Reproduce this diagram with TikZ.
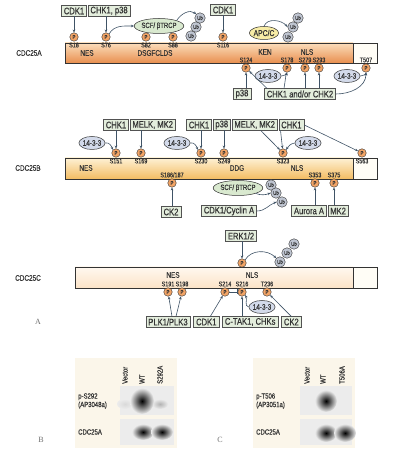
\documentclass[tikz,border=0pt]{standalone}
\usepackage{fontspec}
\setmainfont{Liberation Sans}[FakeStretch=0.8, FakeBold=0.4]
\newfontfamily\panelfont{Liberation Serif}
\usetikzlibrary{positioning,arrows.meta,shapes.geometric}

\definecolor{ink}{HTML}{333333}
\definecolor{arrowc}{HTML}{3F5366}
\definecolor{pfill}{HTML}{F2A466}
\definecolor{ubfill}{HTML}{BFC5D1}
\definecolor{adfill}{HTML}{D3DAEA}
\definecolor{scffill}{HTML}{D9E9CF}
\definecolor{apcfill}{HTML}{F7ECA6}
\definecolor{kinfill}{HTML}{E4EEDD}
\definecolor{barAtop}{HTML}{FBDDBB}
\definecolor{barAbot}{HTML}{E88F4F}
\definecolor{barBtop}{HTML}{FEF1D4}
\definecolor{barBbot}{HTML}{F3BC62}
\definecolor{barCtop}{HTML}{FFF8F0}
\definecolor{barCbot}{HTML}{FBE3C7}
\definecolor{tailfill}{HTML}{FFFDF6}
\definecolor{panelbg}{HTML}{FBF6EA}
\definecolor{blotbg}{HTML}{ECECEC}

\begin{document}
\begin{tikzpicture}[x=1pt, y=1pt, text=ink, >={Stealth[length=3pt,width=2.6pt]},
    kin/.style={draw=ink!85, fill=kinfill, line width=0.5pt, inner xsep=2.5pt, inner ysep=0.3pt,
      minimum height=10.5pt, font=\fontsize{9.5}{9.5}\selectfont},
    phos/.style={circle, draw=ink, fill=pfill, line width=0.4pt, minimum size=8.5pt, inner sep=0pt,
      font=\fontsize{5.5}{5.5}\selectfont},
    ub/.style={circle, draw=ink, fill=ubfill, line width=0.4pt, minimum size=10.5pt, inner sep=0pt,
      font=\fontsize{5.5}{5.5}\selectfont},
    adapt/.style={ellipse, draw=ink, fill=adfill, line width=0.5pt, minimum height=13pt, minimum width=26pt,
      inner sep=0pt, font=\fontsize{8}{8}\selectfont},
    ligase/.style={ellipse, draw=ink, fill=scffill, line width=0.5pt, minimum height=15pt, inner sep=0pt,
      font=\fontsize{7.5}{7.5}\selectfont},
    res/.style={inner sep=0pt, font=\fontsize{6.8}{6.8}\selectfont},
    dom/.style={inner sep=0pt, font=\fontsize{8}{8}\selectfont},
    prot/.style={inner sep=0pt, font=\fontsize{8}{8}\selectfont},
    blab/.style={inner sep=0pt, font=\fontsize{7.5}{8.5}\selectfont, align=left},
    panel/.style={inner sep=0pt, text=ink!70, font=\panelfont\fontsize{8}{8}\selectfont},
    act/.style={->, draw=arrowc, line width=0.6pt}]
  \useasboundingbox (0,0) rectangle (395,450);

  % CDC25A
  \node[prot] (pA) at (29,397) {CDC25A};
  \shadedraw[top color=barAtop, bottom color=barAbot, draw=ink, line width=0.6pt] (65,387) rectangle (353,407);
  \filldraw[fill=tailfill, draw=ink, line width=0.6pt] (353,387) rectangle (377,407);
  \node[dom] (aNES) at (87,397) {NES}; \node[dom] (aDSG) at (155,397) {DSGFCLDS};
  \node[dom] (aKEN) at (265,398) {KEN}; \node[dom] (aNLS) at (307,398) {NLS};
  \node[phos] (aS18) at (74,413) {P}; \node[res, below=1pt of aS18] (laS18) {S18};
  \node[phos] (aS76) at (106,413) {P}; \node[res, below=1pt of aS76] (laS76) {S76};
  \node[phos] (aS82) at (146,413) {P}; \node[res, below=1pt of aS82] (laS82) {S82};
  \node[phos] (aS88) at (173,413) {P}; \node[res, below=1pt of aS88] (laS88) {S88};
  \node[phos] (aS116) at (223,413) {P}; \node[res, below=1pt of aS116] (laS116) {S116};
  \node[phos] (aS124) at (246,382) {P}; \node[res, above=1pt of aS124] (laS124) {S124};
  \node[phos] (aS178) at (287,382) {P}; \node[res, above=1pt of aS178] (laS178) {S178};
  \node[phos] (aS279) at (305,382) {P}; \node[res, above=1pt of aS279] (laS279) {S279};
  \node[phos] (aS293) at (319,382) {P}; \node[res, above=1pt of aS293] (laS293) {S293};
  \node[phos] (aT507) at (366,382) {P}; \node[res, above=1pt of aT507] (laT507) {T507};
  \node[kin] (kCDK1a) at (74,439) {CDK1};
  \node[kin, right=0.8pt of kCDK1a] (kCHKp) {CHK1, p38};
  \node[kin] (kCDK1b) at (223,440) {CDK1};
  \node[ligase] (scfA) at (159,424) {SCF/ βTRCP};
  \node[ub] (ubA1) at (191,414) {Ub}; \node[ub] (ubA2) at (196,423) {Ub}; \node[ub] (ubA3) at (200,432) {Ub};
  \node[adapt, fill=apcfill, minimum width=28pt, font=\fontsize{8.5}{8.5}\selectfont] (apcA) at (264,417) {APC/C};
  \node[ub] (ubA4) at (288,413) {Ub}; \node[ub] (ubA5) at (293,423) {Ub}; \node[ub] (ubA6) at (298,432) {Ub};
  \node[adapt] (adA1) at (268,374) {14-3-3}; \node[adapt] (adA2) at (347,374) {14-3-3};
  \node[kin] (kp38a) at (242,356) {p38};
  \node[kin] (kCHK12) at (300,356) {CHK1 and/or CHK2};
  \draw[act] (kCDK1a) -- (aS18); \draw[act] (kCHKp.south -| aS76) -- (aS76); \draw[act] (kCDK1b) -- (aS116);
  \draw[act] (aS76.north east) to[out=60,in=180] (scfA.west);
  \draw[act] (scfA.north east) to[out=60,in=140] (ubA3.north west);
  \draw[act] (apcA.north) to[out=70,in=130] (ubA5.west);
  \draw[act] (adA1.east) to[out=20,in=-100] (aS178.south); \draw[act] (adA2.east) to[out=20,in=-100] (aT507.south);
  \draw[act] (kp38a.north -| aS124) -- (aS124);
  \draw[act] ([xshift=3pt]kCHK12.north west) -- (aS124);
  \draw[act] ([xshift=-3pt]kCHK12.north -| aS178) -- (aS178);
  \draw[act] (kCHK12.north -| aS279) -- (aS279); \draw[act] (kCHK12.north -| aS293) -- (aS293);
  \draw[act] (kCHK12.east) to[out=0,in=-90] (aT507.south);

  % CDC25B
  \node[prot] (pB) at (28,282) {CDC25B};
  \shadedraw[top color=barBtop, bottom color=barBbot, draw=ink, line width=0.6pt] (65,271) rectangle (353,292);
  \filldraw[fill=tailfill, draw=ink, line width=0.6pt] (353,271) rectangle (377,292);
  \node[dom] (bNES) at (86,282) {NES}; \node[dom] (bDDG) at (237,282) {DDG}; \node[dom] (bNLS) at (297,282) {NLS};
  \node[phos] (bS151) at (116,297) {P}; \node[res, below=1pt of bS151] (lbS151) {S151};
  \node[phos] (bS169) at (141,297) {P}; \node[res, below=1pt of bS169] (lbS169) {S169};
  \node[phos] (bS230) at (201,297) {P}; \node[res, below=1pt of bS230] (lbS230) {S230};
  \node[phos] (bS249) at (224,297) {P}; \node[res, below=1pt of bS249] (lbS249) {S249};
  \node[phos] (bS323) at (283,297) {P}; \node[res, below=1pt of bS323] (lbS323) {S323};
  \node[phos] (bS563) at (362,297) {P}; \node[res, below=1pt of bS563] (lbS563) {S563};
  \node[phos] (bS186) at (172,267) {P}; \node[res, above=1pt of bS186] (lbS186) {S186/187};
  \node[phos] (bS353) at (315,267) {P}; \node[res, above=1pt of bS353] (lbS353) {S353};
  \node[phos] (bS375) at (334,267) {P}; \node[res, above=1pt of bS375] (lbS375) {S375};
  \node[kin] (kCHK1b) at (116,325) {CHK1}; \node[kin, right=0.8pt of kCHK1b] (kMELKb) {MELK, MK2};
  \node[kin] (kCHK1c) at (199,325) {CHK1}; \node[kin, right=0.8pt of kCHK1c] (kp38b) {p38};
  \node[kin, right=0.8pt of kp38b] (kMELKc) {MELK, MK2}; \node[kin, right=0.8pt of kMELKc] (kCHK1d) {CHK1};
  \node[adapt] (adB1) at (92,307) {14-3-3}; \node[adapt] (adB2) at (177,307) {14-3-3};
  \node[adapt] (adB3) at (308,307) {14-3-3};
  \node[ligase] (scfB) at (238,262) {SCF/ βTRCP};
  \node[ub] (ubB1) at (271,265) {Ub}; \node[ub] (ubB2) at (276,257) {Ub}; \node[ub] (ubB3) at (282,248) {Ub};
  \node[kin] (kCK2b) at (171,238) {CK2};
  \node[kin] (kCDKcyc) at (229,239) {CDK1/Cyclin A};
  \node[kin] (kAurA) at (309,239) {Aurora A}; \node[kin, right=0.8pt of kAurA] (kMK2) {MK2};
  \draw[act] (kCHK1b.south -| bS151) -- (bS151); \draw[act] (kMELKb.south -| bS169) -- (bS169);
  \draw[act] (kCHK1c.south -| bS230) -- (bS230); \draw[act] (kp38b.south -| bS249) -- (bS249);
  \draw[act] ([xshift=6pt]kMELKc.south) -- (bS323); \draw[act] ([xshift=2pt]kCHK1d.south west) -- (bS323);
  \draw[act] (kCHK1d.east) -- (bS563);
  \draw[act] (adB1.east) to[out=15,in=110] (bS151.north west); \draw[act] (adB2.east) to[out=15,in=110] (bS230.north west);
  \draw[act] (adB3.west) to[out=190,in=60] (bS323.north east);
  \draw[act] (kCK2b.north -| bS186) -- (bS186);
  \draw[act] (kAurA.north -| bS353) -- (bS353); \draw[act] (kMK2.north -| bS375) -- (bS375);
  \draw[act] (scfB.south east) to[out=-20,in=200] (ubB2.west);
  \draw[act] (kCDKcyc.east) to[out=0,in=200] (ubB3.west);

  % CDC25C
  \node[prot] (pC) at (28,172) {CDC25C};
  \shadedraw[top color=barCtop, bottom color=barCbot, draw=ink, line width=0.6pt] (75,162) rectangle (353,183);
  \filldraw[fill=tailfill, draw=ink, line width=0.6pt] (353,162) rectangle (377,183);
  \node[dom] (cNES) at (173,175) {NES}; \node[dom] (cNLS) at (252,175) {NLS};
  \node[phos] (cS191) at (168,158) {P}; \node[res, above=1pt of cS191] (lcS191) {S191};
  \node[phos] (cS198) at (182,158) {P}; \node[res, above=1pt of cS198] (lcS198) {S198};
  \node[phos] (cS214) at (225,158) {P}; \node[res, above=1pt of cS214] (lcS214) {S214};
  \node[phos] (cS216) at (242,158) {P}; \node[res, above=1pt of cS216] (lcS216) {S216};
  \node[phos] (cT236) at (267,158) {P}; \node[res, above=1pt of cT236] (lcT236) {T236};
  \node[phos] (cERK) at (242,187) {P};
  \node[kin] (kERK) at (241,214) {ERK1/2};
  \node[ub] (ubC1) at (280,188) {Ub}; \node[ub] (ubC2) at (287,197) {Ub}; \node[ub] (ubC3) at (294,206) {Ub};
  \node[adapt] (adC) at (262,143) {14-3-3};
  \node[kin] (kPLK) at (168,128) {PLK1/PLK3};
  \node[kin, right=3pt of kPLK] (kCDK1c) {CDK1};
  \node[kin, right=3pt of kCDK1c] (kCTAK) {C-TAK1, CHKs};
  \node[kin, right=3pt of kCTAK] (kCK2c) {CK2};
  \draw[act] (kERK.south -| cERK) -- (cERK);
  \draw[act] (cERK.north east) to[out=60,in=135] (ubC1.north west);
  \draw[act] ([xshift=4pt]kPLK.north) -- (cS191); \draw[act] ([xshift=8pt]kPLK.north) -- (cS198);
  \draw[act] ([xshift=4pt]kCDK1c.north) -- (cS214);
  \draw[act] (kCTAK.north -| cS216) -- (cS216);
  \draw[act] (kCK2c.north) -- (cT236);
  \draw[draw=arrowc, line width=0.6pt, -{Bar[width=5pt]}] (cS214) -- (cS216);
  \draw[act] (adC.west) to[out=170,in=-60] (cS216.south east);
  \node[panel] (lblA) at (38,128) {A};

  % blot B
  \fill[panelbg] (75,2) rectangle (177,92);
  \fill[blotbg] (120,35) rectangle (174,64); \fill[blotbg] (120,5) rectangle (174,31);
  \shade[inner color=black!15, outer color=blotbg] (125,46) ellipse (8 and 5);
  \shade[inner color=black!30, outer color=blotbg] (160,46) ellipse (8 and 5);
  \shade[inner color=black, outer color=blotbg] (142,49) ellipse (12 and 13);
  \shade[inner color=black, outer color=blotbg] (143,18) ellipse (11 and 8);
  \shade[inner color=black, outer color=blotbg] (162,18) ellipse (11 and 8);
  \node[blab, rotate=90, anchor=west] (bV) at (125,66) {Vector};
  \node[blab, rotate=90, anchor=west] (bWT) at (142,66) {WT};
  \node[blab, rotate=90, anchor=west] (bMut) at (160,66) {S292A};
  \node[blab, anchor=west] (bR1) at (78,49) {p-S292\\(AP3048a)};
  \node[blab, anchor=west] (bR2) at (78,18) {CDC25A};
  \node[panel] (lblB) at (41,10) {B};

  % blot C
  \fill[panelbg] (253,2) rectangle (355,92);
  \fill[blotbg] (300,35) rectangle (352,64); \fill[blotbg] (300,5) rectangle (352,31);
  \shade[inner color=black, outer color=blotbg] (326,49) ellipse (11 and 11);
  \shade[inner color=black, outer color=blotbg] (326,17) ellipse (11 and 9);
  \shade[inner color=black, outer color=blotbg] (345,17) ellipse (11 and 9);
  \node[blab, rotate=90, anchor=west] (cV) at (307,66) {Vector};
  \node[blab, rotate=90, anchor=west] (cWT) at (323,66) {WT};
  \node[blab, rotate=90, anchor=west] (cMut) at (342,66) {T506A};
  \node[blab, anchor=west] (cR1) at (256,49) {p-T506\\(AP3051a)};
  \node[blab, anchor=west] (cR2) at (256,18) {CDC25A};
  \node[panel] (lblC) at (220,10) {C};
\end{tikzpicture}
\end{document}
